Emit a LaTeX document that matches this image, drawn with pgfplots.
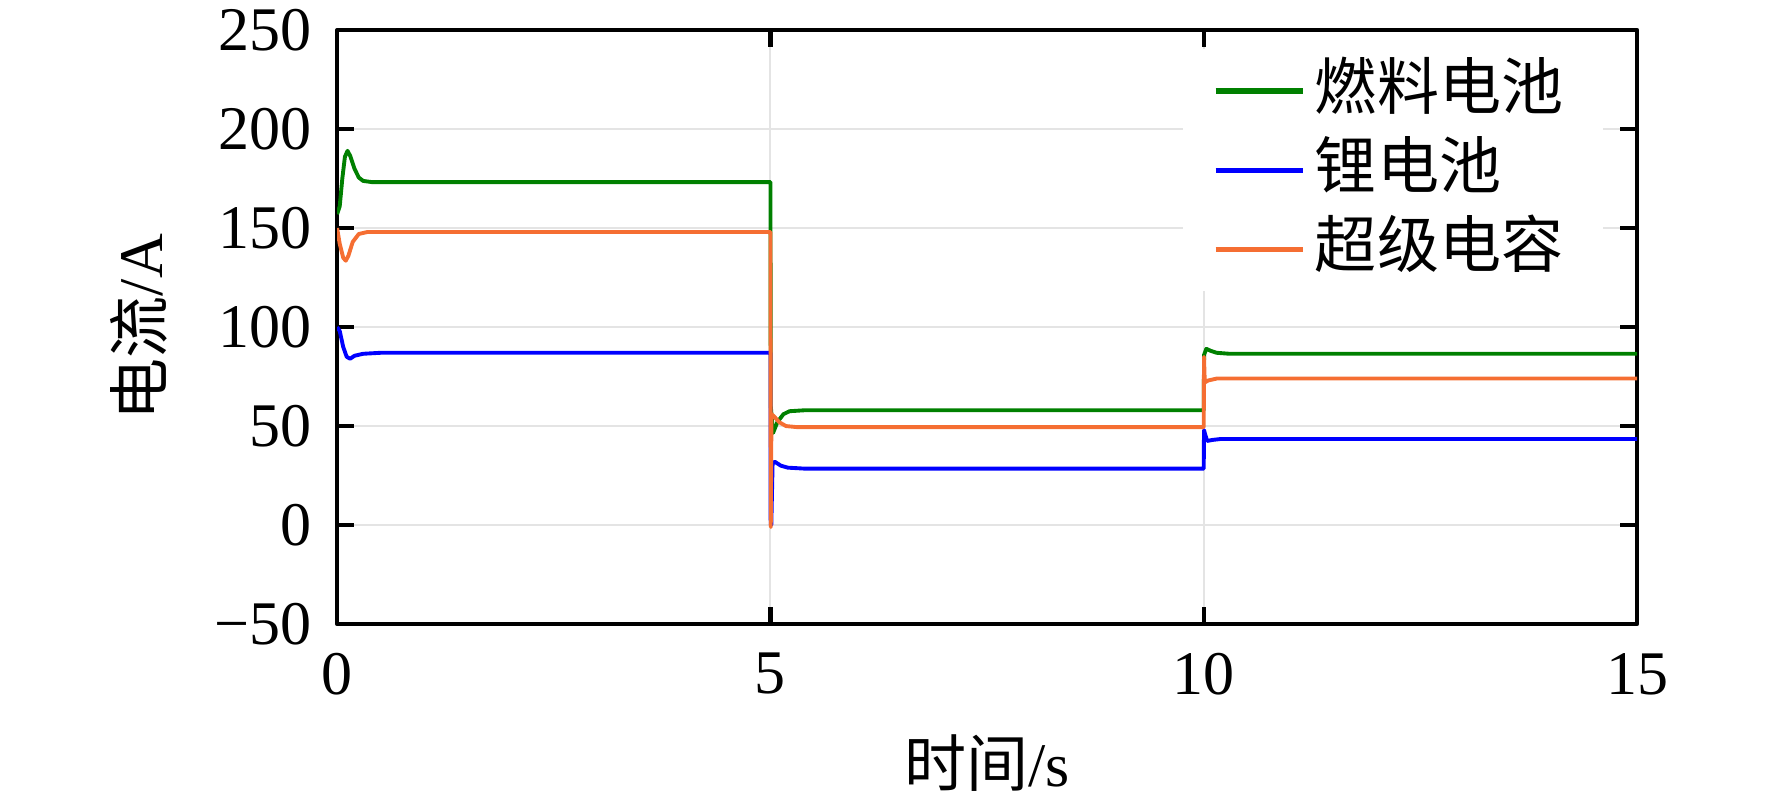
\documentclass[border=0pt]{standalone}
\usepackage{pgfplots}
\pgfplotsset{compat=1.18}
\usepackage{fontspec}
\setmainfont{Liberation Serif}
\newfontfamily\cjk{Noto Sans CJK SC}
\definecolor{fcgreen}{RGB}{0,128,0}
\definecolor{libblue}{RGB}{0,0,255}
\definecolor{scorange}{RGB}{245,110,50}
\definecolor{gridgray}{RGB}{228,228,228}
\begin{document}
\fontsize{12}{14.4}\selectfont
\begin{tikzpicture}
\begin{axis}[
  scale only axis, width=251.4pt, height=114.9pt,
  xmin=0, xmax=15, ymin=-50, ymax=250,
  xtick={0,5,10,15}, xticklabels={0,5,10,15},
  ytick={-50,0,50,100,150,200,250},
  yticklabels={−50,0,50,100,150,200,250},
  /pgf/number format/assume math mode=true,
  tick align=inside, major tick length=3.3pt,
  every tick/.style={black, line width=0.8pt},
  axis line style={line width=0.8pt},
  grid=major, major grid style={gridgray, line width=0.4pt},
  xticklabel style={yshift=-1.4pt},
  yticklabel style={xshift=-0.8pt},
  xlabel={{\cjk 时间}/s},
  ylabel={{\cjk 电流}/A},
  xlabel style={at={(axis description cs:0.5,-0.234)}, anchor=center, inner sep=0pt},
  ylabel style={at={(axis description cs:-0.130,0.5)}, anchor=south, rotate=0, inner sep=0pt},
  legend style={at={(axis description cs:0.65,0.97)}, anchor=north west,
    draw=none, fill=white, inner xsep=5.8pt, inner ysep=1.65pt,
    row sep=2.3pt, column sep=1.9pt,
    nodes={inner sep=0pt, text height=10pt, text depth=3pt}},
  legend cell align=left,
  legend image code/.code={\draw[#1, line width=1pt] (0pt,0pt) -- (16.8pt,0pt);},
  line join=round,
]
\addplot[fcgreen, line width=0.75pt] coordinates {
(0,157) (0.03,161) (0.06,175) (0.09,186) (0.12,189) (0.15,186.5) (0.2,180) (0.25,175.5) (0.3,173.8) (0.4,173.2) (5,173.2)
(5.004,60) (5.03,46.5) (5.08,52) (5.15,56) (5.22,57.5) (5.4,58) (10,58)
(10.004,86) (10.03,89) (10.08,88) (10.15,87) (10.3,86.5) (15,86.5)
};
\addplot[libblue, line width=0.75pt] coordinates {
(0,100) (0.03,98) (0.07,90) (0.11,85) (0.15,84) (0.2,85.5) (0.3,86.5) (0.5,87) (5,87)
(5.003,0) (5.01,0) (5.025,31) (5.05,32) (5.12,30) (5.2,29) (5.4,28.5) (10,28.5)
(10.003,48) (10.015,46) (10.04,42.5) (10.1,43) (10.2,43.5) (15,43.5)
};
\addplot[scorange, line width=0.75pt] coordinates {
(0,150) (0.03,142) (0.07,135) (0.1,133.5) (0.13,136) (0.18,143) (0.25,147) (0.35,148) (5,148)
(5.004,-1) (5.012,56) (5.04,55) (5.1,52) (5.18,50) (5.3,49.5) (10,49.5)
(10.003,85) (10.012,72) (10.05,73) (10.15,74) (15,74)
};
\legend{\makebox[50pt][l]{\cjk 燃料电池},\makebox[50pt][l]{\cjk 锂电池},\makebox[50pt][l]{\cjk 超级电容}}
\end{axis}
\pgfresetboundingbox
\path ([shift={(-65.2pt,-35pt)}]current axis.south west) rectangle ([shift={(26.1pt,5.8pt)}]current axis.north east);
\end{tikzpicture}
\end{document}
